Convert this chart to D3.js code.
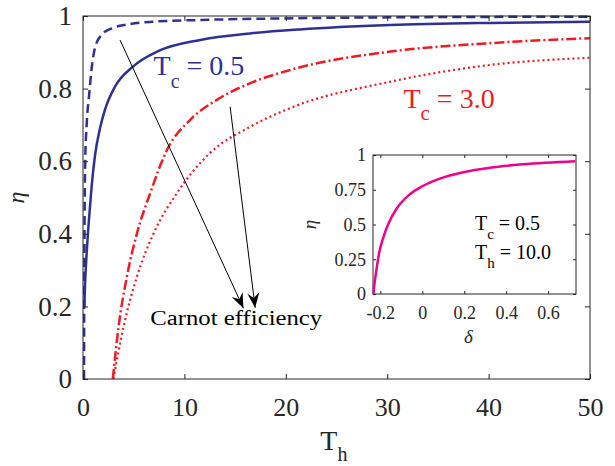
<!DOCTYPE html>
<html>
<head>
<meta charset="utf-8">
<script src="https://cdn.jsdelivr.net/npm/d3@7"></script>
<style>
  body { margin: 0; background: #fff; }
  svg text { font-family: "Liberation Serif", Tinos, "Times New Roman", Times, serif; fill: #262626; }
  .axis path, .axis line { stroke: #262626; }
</style>
</head>
<body>
<svg id="chart" width="615" height="466"></svg>
<script>
/* values: [Th, eta] */
var tc05_dashed = [[0.10,0],[0.14,0.35],[0.22,0.60],[0.36,0.70],[0.62,0.787],[0.85,0.855],[1.18,0.912],[1.83,0.948],
  [2.82,0.966],[4.46,0.977],[6.76,0.984],[11.6,0.989],[21.4,0.994],[35,0.997],[50,0.998]];
var tc05_solid = [[0.13,0.20],[0.2,0.26],[0.36,0.346],[0.59,0.44],[0.85,0.53],[1.18,0.615],[1.67,0.69],[2.17,0.742],
  [3.15,0.805],[4.9,0.86],[7.4,0.903],[11.56,0.934],[16.5,0.952],[21.4,0.963],[30.3,0.975],[40.1,0.981],[50,0.984]];
var tc30_dashdot = [[2.94,0],[3.51,0.144],[4.33,0.282],[5.32,0.401],[6.63,0.512],[8.28,0.631],[10.57,0.714],[13.2,0.769],
  [16.5,0.815],[20.4,0.851],[30.3,0.902],[40.1,0.925],[50,0.939]];
var tc30_dotted = [[3.0,0],[4.0,0.144],[5.32,0.282],[6.96,0.401],[9.26,0.512],[12.5,0.622],[16.5,0.695],[20.4,0.746],
  [30.3,0.819],[40.1,0.865],[50,0.885]];
/* inset: [delta, eta] at Tc = 0.5, Th = 10 */
var inset_curve = [[-0.233,0],[-0.229,0.06],[-0.220,0.16],[-0.205,0.30],[-0.185,0.41],[-0.160,0.51],[-0.122,0.615],
  [-0.059,0.718],[0,0.775],[0.084,0.830],[0.195,0.876],[0.322,0.909],[0.48,0.933],[0.73,0.955]];

var x_ticks = [0,10,20,30,40,50];
var y_ticks = [0,0.2,0.4,0.6,0.8,1];
var inset_x_ticks = [-0.2,0,0.2,0.4,0.6];
var inset_y_ticks = [0,0.25,0.5,0.75,1];

/* annotation arrows, [start, end] in data units */
var arrows = [[[3.65,0.934],[15.82,0.195]], [[14.51,0.750],[16.98,0.196]]];

var blue = "#2e3192", red = "#ed1c24", pink = "#ec008c";

var svg = d3.select("#chart");

var margin = {top: 16, left: 83, right: 25, bottom: 87},
    width = 615 - margin.left - margin.right,
    height = 466 - margin.top - margin.bottom;

var x = d3.scaleLinear().domain([0, 50]).range([0, width]),
    y = d3.scaleLinear().domain([0, 1]).range([height, 0]);

var g = svg.append("g").attr("transform", "translate(" + margin.left + "," + margin.top + ")");

/* clip the curves to the plot box */
svg.append("defs").append("clipPath").attr("id", "clip")
  .append("rect").attr("width", width).attr("height", height + 1).attr("y", -1);

var line = d3.line().x(function(d) { return x(d[0]); }).y(function(d) { return y(d[1]); }).curve(d3.curveMonotoneX);

var curves = g.append("g").attr("clip-path", "url(#clip)");
curves.append("path").datum(tc05_dashed).attr("d", line).attr("fill", "none")
  .attr("stroke", blue).attr("stroke-width", 2.5).attr("stroke-dasharray", "9,5");
curves.append("path").datum(tc05_solid).attr("d", line).attr("fill", "none")
  .attr("stroke", blue).attr("stroke-width", 2.5);
curves.append("path").datum(tc30_dashdot).attr("d", line).attr("fill", "none")
  .attr("stroke", red).attr("stroke-width", 2.5).attr("stroke-dasharray", "10,3,2,3");
curves.append("path").datum(tc30_dotted).attr("d", line).attr("fill", "none")
  .attr("stroke", red).attr("stroke-width", 2.2).attr("stroke-dasharray", "2,3");

/* axes, ticks inward on all four sides */
g.append("rect").attr("width", width).attr("height", height).attr("fill", "none").attr("stroke", "#262626");
g.append("g").attr("class", "axis").attr("transform", "translate(0," + height + ")")
  .call(d3.axisBottom(x).tickValues(x_ticks).tickSize(-5).tickPadding(19).tickFormat(d3.format("d")))
  .call(function(a) { a.select(".domain").remove(); })
  .selectAll("text").style("font-size", "26px");
g.append("g").attr("class", "axis")
  .call(d3.axisTop(x).tickValues(x_ticks).tickSize(-5).tickFormat(""))
  .call(function(a) { a.select(".domain").remove(); });
g.append("g").attr("class", "axis")
  .call(d3.axisLeft(y).tickValues(y_ticks).tickSize(-5).tickPadding(11).tickFormat(function(d) { return String(d); }))
  .call(function(a) { a.select(".domain").remove(); })
  .selectAll("text").style("font-size", "27px");
g.append("g").attr("class", "axis").attr("transform", "translate(" + width + ",0)")
  .call(d3.axisRight(y).tickValues(y_ticks).tickSize(-5).tickFormat(""))
  .call(function(a) { a.select(".domain").remove(); });

/* axis labels */
var xl = g.append("text").attr("x", x(23.4)).attr("y", height + 71).style("font-size", "28px");
xl.append("tspan").text("T");
xl.append("tspan").attr("dy", 11).style("font-size", "20px").text("h");
g.append("text").attr("transform", "translate(-59," + y(0.5) + ") rotate(-90)")
  .attr("text-anchor", "middle").style("font-size", "24px").style("font-style", "italic").text("η");

/* arrows */
var defs = svg.select("defs");
defs.append("marker").attr("id", "head").attr("markerUnits", "userSpaceOnUse")
  .attr("markerWidth", 20).attr("markerHeight", 20).attr("refX", 0).attr("refY", 0)
  .attr("viewBox", "-16 -8 20 16").attr("orient", "auto")
  .append("path").attr("d", "M0,0 L-15,-6 L-10,0 L-15,6 Z").attr("fill", "#000");
g.selectAll(".arrow").data(arrows).enter().append("line")
  .attr("class", "arrow")
  .attr("x1", function(d) { return x(d[0][0]); }).attr("y1", function(d) { return y(d[0][1]); })
  .attr("x2", function(d) { return x(d[1][0]); }).attr("y2", function(d) { return y(d[1][1]); })
  .attr("stroke", "#000").attr("stroke-width", 1).attr("marker-end", "url(#head)");

/* annotations */
g.append("text").attr("x", x(6.63)).attr("y", y(0.149)).style("font-size", "20px").style("fill", "#000")
  .attr("textLength", 172).attr("lengthAdjust", "spacingAndGlyphs").text("Carnot efficiency");

function label(parent, px, py, sub, rest, col, big, small, drop) {
  var t = parent.append("text").attr("x", px).attr("y", py).style("font-size", big + "px").style("fill", col);
  t.append("tspan").text("T");
  t.append("tspan").attr("dy", drop).style("font-size", small + "px").text(sub);
  t.append("tspan").attr("dy", -drop).text(" = " + rest);
}
label(g, x(6.96), y(0.837), "c", "0.5", blue, 28, 20, 13);
label(g, x(31.6), y(0.746), "c", "3.0", red, 28, 21, 12);

/* inset */
var ins = {left: 373, top: 155, w: 203, h: 139};
var xi = d3.scaleLinear().domain([-0.235, 0.733]).range([0, ins.w]),
    yi = d3.scaleLinear().domain([0, 1]).range([ins.h, 0]);
var gi = svg.append("g").attr("transform", "translate(" + ins.left + "," + ins.top + ")");
gi.append("rect").attr("width", ins.w).attr("height", ins.h).attr("fill", "#fff").attr("stroke", "#262626");

var iline = d3.line().x(function(d) { return xi(d[0]); }).y(function(d) { return yi(d[1]); }).curve(d3.curveMonotoneX);
gi.append("path").datum(inset_curve).attr("d", iline).attr("fill", "none").attr("stroke", pink).attr("stroke-width", 2.5);

gi.append("g").attr("class", "axis").attr("transform", "translate(0," + ins.h + ")")
  .call(d3.axisBottom(xi).tickValues(inset_x_ticks).tickSize(-3).tickPadding(12).tickFormat(function(d) { return String(d); }))
  .call(function(a) { a.select(".domain").remove(); })
  .selectAll("text").style("font-size", "18px");
gi.append("g").attr("class", "axis")
  .call(d3.axisTop(xi).tickValues(inset_x_ticks).tickSize(-3).tickFormat(""))
  .call(function(a) { a.select(".domain").remove(); });
gi.append("g").attr("class", "axis")
  .call(d3.axisLeft(yi).tickValues(inset_y_ticks).tickSize(-3).tickPadding(7).tickFormat(function(d) { return String(d); }))
  .call(function(a) { a.select(".domain").remove(); })
  .selectAll("text").style("font-size", "18px");
gi.append("g").attr("class", "axis").attr("transform", "translate(" + ins.w + ",0)")
  .call(d3.axisRight(yi).tickValues(inset_y_ticks).tickSize(-3).tickFormat(""))
  .call(function(a) { a.select(".domain").remove(); });

gi.append("text").attr("x", xi(0.22)).attr("y", ins.h + 49).attr("text-anchor", "middle")
  .style("font-size", "19px").style("font-style", "italic").text("δ");
gi.append("text").attr("transform", "translate(-57," + yi(0.5) + ") rotate(-90)")
  .attr("text-anchor", "middle").style("font-size", "19px").style("font-style", "italic").text("η");

label(gi, xi(0.251), yi(0.46), "c", "0.5", "#000", 20, 15, 9);
label(gi, xi(0.251), yi(0.25), "h", "10.0", "#000", 20, 15, 9);
</script>
</body>
</html>
